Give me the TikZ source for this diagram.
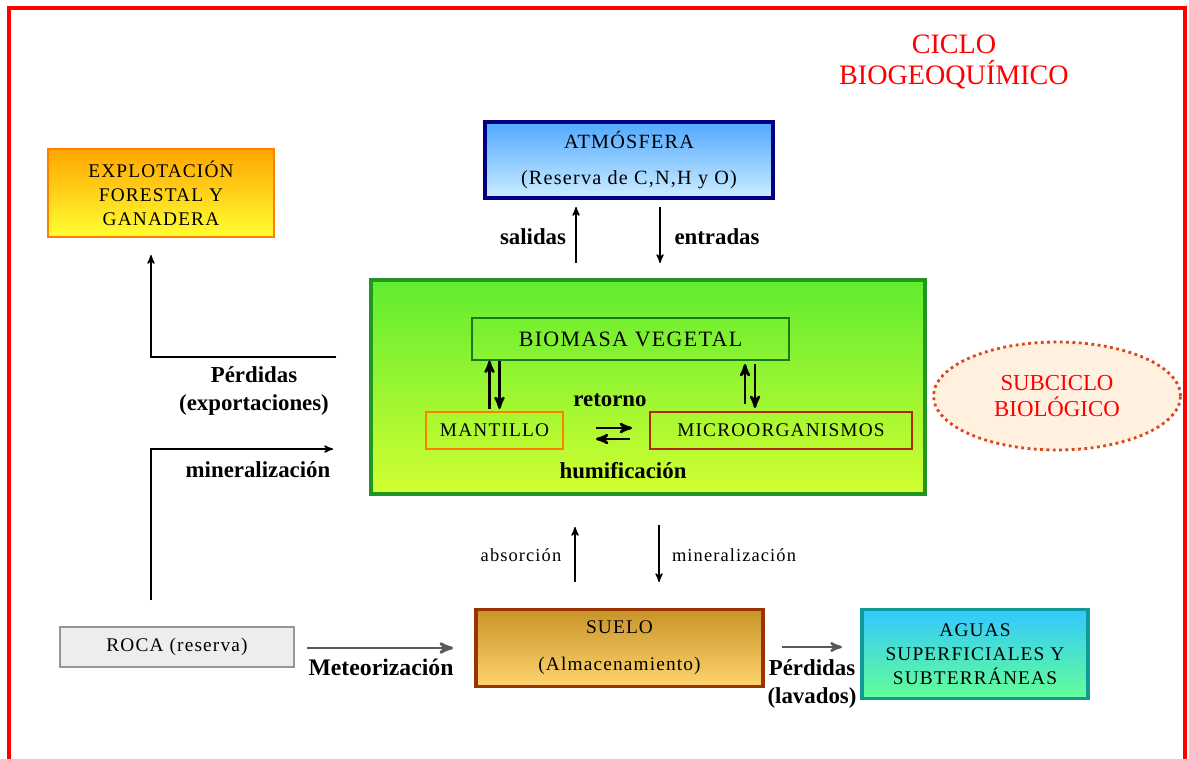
\documentclass[tikz,border=0pt]{standalone}
\usepackage{fontspec}
\setmainfont{Liberation Serif}
\newfontfamily\spaced[LetterSpace=6]{Liberation Serif}
\usetikzlibrary{arrows,shapes.geometric}
\definecolor{frame}{RGB}{255,0,0}
\definecolor{navy}{RGB}{0,0,128}
\definecolor{leaf}{RGB}{34,150,34}
\definecolor{rust}{RGB}{153,51,0}
\definecolor{teal}{RGB}{17,153,153}
\definecolor{stone}{RGB}{150,150,150}
\definecolor{dots}{RGB}{220,70,30}
\definecolor{greentop}{RGB}{96,236,48}
\definecolor{greenbot}{RGB}{210,255,50}
\definecolor{soiltop}{RGB}{200,148,40}
\definecolor{soilbot}{RGB}{255,212,110}
\definecolor{skytop}{RGB}{80,168,255}
\definecolor{skybot}{RGB}{205,238,255}
\definecolor{watertop}{RGB}{50,200,255}
\definecolor{waterbot}{RGB}{100,255,150}
\tikzset{
  box/.style = {rectangle, align=center, inner sep=0pt, text centered,
    font=\spaced\fontsize{11}{13.6}\selectfont},
  inbox/.style = {rectangle, align=center, inner sep=0pt,
    font=\spaced\fontsize{12.5}{15}\selectfont, line width=0.8pt},% boxes in the green one
  lbl/.style = {align=center, inner sep=0pt,
    font=\bfseries\fontsize{13}{16}\selectfont},% bold labels
  small/.style = {align=center, inner sep=0pt,
    font=\spaced\fontsize{10.5}{13}\selectfont},
  flow/.style = {->, >=stealth', line width=0.8pt},
  pair/.style = {->, >=stealth', line width=1.4pt},
  grey/.style = {->, >=stealth', line width=1.6pt, black!65}
}
\begin{document}
\begin{tikzpicture}[x=0.02cm,y=-0.02cm]
\useasboundingbox (0,0) rectangle (1189,758);
\draw[frame, line width=2.3pt] (9,770) -- (9,8) -- (1185,8) -- (1185,770);

% title
\node [align=center, inner sep=0pt, text=frame, font=\fontsize{16}{17.6}\selectfont]
  (title) at (954,62) {CICLO\\BIOGEOQUÍMICO};

% boxes
\node [box, draw=orange, line width=1.6pt, top color=orange!70!yellow, bottom color=yellow!80,
  minimum width=4.52cm, minimum height=1.76cm] (explot) at (161,193)
  {EXPLOTACIÓN\\FORESTAL Y\\GANADERA};
\node [box, draw=navy, line width=1.8pt, top color=skytop, bottom color=skybot,
  font=\spaced\fontsize{11.5}{20}\selectfont,
  minimum width=5.76cm, minimum height=1.52cm] (atm) at (629,160)
  {ATMÓSFERA\\(Reserva de C,N,H y O)};
\node [draw=leaf, line width=1.8pt, top color=greentop, bottom color=greenbot,
  minimum width=11.08cm, minimum height=4.28cm] (green) at (648,387) {};
\node [inbox, draw=leaf!80!black, minimum width=6.34cm, minimum height=0.84cm]
  (biomasa) at (630.5,339) {BIOMASA VEGETAL};
\node [inbox, draw=orange, font=\spaced\fontsize{11}{13}\selectfont,
  minimum width=2.74cm, minimum height=0.74cm] (mantillo) at (494.5,430.5) {MANTILLO};
\node [inbox, draw=rust!80!red, font=\spaced\fontsize{11}{13}\selectfont,
  minimum width=5.24cm, minimum height=0.74cm] (micro) at (781,430.5) {MICROORGANISMOS};
\node [ellipse, draw=dots, dotted, line width=1.6pt, fill=orange!12!white,
  align=center, text=frame, font=\fontsize{13}{14.7}\selectfont,
  minimum width=4.94cm, minimum height=2.16cm] (subciclo) at (1057,396)
  {SUBCICLO\\BIOLÓGICO};
\node [box, draw=stone, line width=1.6pt, fill=black!7,
  minimum width=4.68cm, minimum height=0.8cm] (roca) at (177,647) {ROCA (reserva)};
\node [box, draw=rust, line width=1.8pt, top color=soiltop, bottom color=soilbot,
  font=\spaced\fontsize{11}{21}\selectfont,
  minimum width=5.74cm, minimum height=1.54cm] (suelo) at (619.5,648)
  {SUELO\\(Almacenamiento)};
\node [box, draw=teal, line width=1.8pt, top color=watertop, bottom color=waterbot,
  minimum width=4.52cm, minimum height=1.78cm] (aguas) at (975,654)
  {AGUAS\\SUPERFICIALES Y\\SUBTERRÁNEAS};

% connector ends
\coordinate (sal0) at (576,263); \coordinate (sal1) at (576,207);
\coordinate (ent0) at (660,207); \coordinate (ent1) at (660,263);
\coordinate (per0) at (336,357); \coordinate (per1) at (151,255);
\coordinate (min0) at (151,600); \coordinate (min1) at (333,449);
\coordinate (abs0) at (575,582); \coordinate (abs1) at (575,527);
\coordinate (mis0) at (659,525); \coordinate (mis1) at (659,582);
\coordinate (met0) at (307,648); \coordinate (met1) at (453,648);
\coordinate (lav0) at (782,647); \coordinate (lav1) at (842,647);

\draw [flow] (sal0) -- (sal1);
\draw [flow] (ent0) -- (ent1);
\draw [flow] (per0) -| (per1);
\draw [flow] (min0) |- (min1);
\draw [flow] (abs0) -- (abs1);
\draw [flow] (mis0) -- (mis1);
\draw [grey] (met0) -- (met1);
\draw [grey, line width=1.3pt] (lav0) -- (lav1);

% exchanges inside the green box
\draw [pair] ([xshift=-0.1cm]mantillo.north |- 0,409) -- ([xshift=-0.1cm]mantillo.north |- biomasa.south);
\draw [pair] ([xshift=0.1cm]mantillo.north |- biomasa.south) -- ([xshift=0.1cm]mantillo.north |- 0,409);
\draw [pair] (745,404) -- (745,364);
\draw [pair] (755,364) -- (755,408);
\draw [pair] (596,428) -- (632,428);
\draw [pair] (630,439) -- (596,439);

% labels
\node [lbl] (salidas) at (533,237) {salidas};
\node [lbl] (entradas) at (717,237) {entradas};
\node [lbl] (perdidas) at (254,391) {Pérdidas\\(exportaciones)};
\node [lbl] (mineral) at (258,470) {mineralización};
\node [lbl] (retorno) at (610,400) {retorno};
\node [lbl] (humif) at (623,471) {humificación};
\node [small] (absorcion) at (521,555) {absorción};
\node [small] (mineral2) at (734,555) {mineralización};
\node [lbl, font=\bfseries\fontsize{13.5}{16}\selectfont] (meteor) at (381,667) {Meteorización};
\node [lbl] (lavados) at (812,684) {Pérdidas\\(lavados)};
\end{tikzpicture}
\end{document}
